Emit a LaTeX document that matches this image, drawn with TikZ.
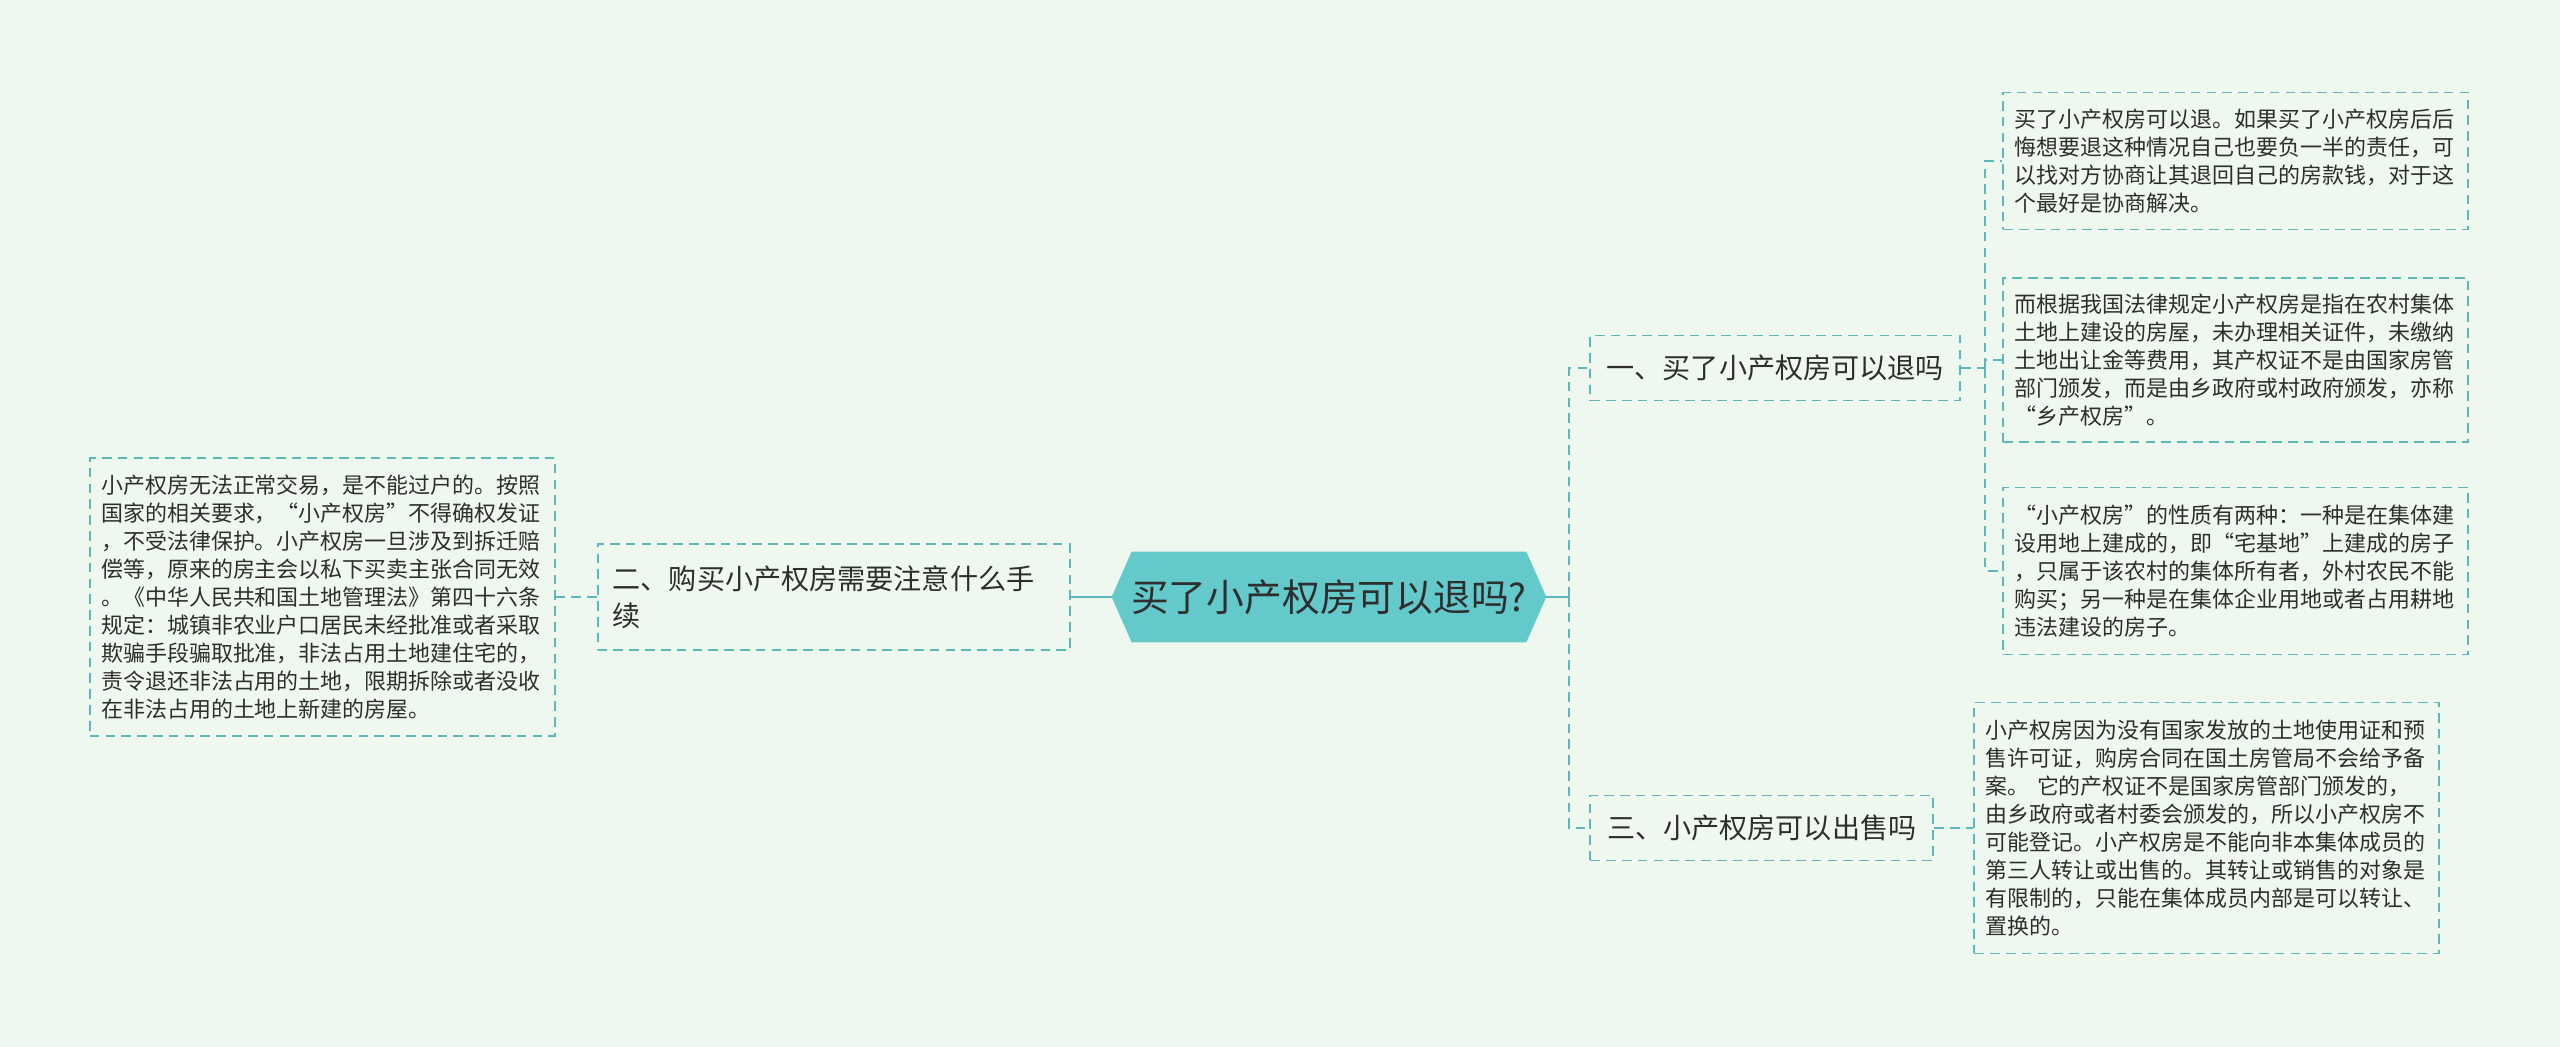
\documentclass[tikz,border=0pt]{standalone}
\usepackage{fontspec}
\setmainfont{Noto Sans CJK SC}
\usepackage{xcolor}
\usetikzlibrary{positioning,calc,backgrounds}

\definecolor{bgmint}{HTML}{EFF8EF}
\definecolor{tealfill}{HTML}{64C9CB}
\definecolor{tealline}{HTML}{5DB8BD}
\definecolor{inktext}{HTML}{2E2E2E}

\begin{document}
\begin{tikzpicture}[
    font=\fontsize{12.5pt}{15.9pt}\selectfont,
    text=inktext,
    box/.style={draw=tealline, line width=1.1pt, dash pattern=on 5.5pt off 3.5pt},
    leaf/.style={box, align=left, text width=8.84cm, inner xsep=0.23cm, inner ysep=0.2cm},
    branch/.style={box, font=\fontsize{16pt}{21pt}\selectfont, minimum height=1.3cm, inner xsep=0.3cm},
    root/.style={font=\fontsize{21.5pt}{26pt}\selectfont, minimum width=8.68cm, minimum height=1.8cm},
    link/.style={draw=tealline, line width=1.6pt},
    dlink/.style={link, line width=1.1pt, dash pattern=on 5.5pt off 3.5pt},
  ]
  \useasboundingbox (-26.58,-9.0) rectangle (24.62,11.94);

  % Root
  \node[root] (root) at (0,0) {买了小产权房可以退吗?};

  % Left branch
  \node[branch, left=0.82cm of root, align=left, text width=8.84cm, minimum height=2.12cm] (buy) {二、购买小产权房需要注意什么手\\续};
  \node[leaf, left=0.82cm of buy, minimum height=5.56cm] (buynote) {小产权房无法正常交易，是不能过户的。按照\\国家的相关要求，“小产权房”不得确权发证\\，不受法律保护。小产权房一旦涉及到拆迁赔\\偿等，原来的房主会以私下买卖主张合同无效\\。《中华人民共和国土地管理法》第四十六条\\规定：城镇非农业户口居民未经批准或者采取\\欺骗手段骗取批准，非法占用土地建住宅的，\\责令退还非法占用的土地，限期拆除或者没收\\在非法占用的土地上新建的房屋。};

  % Right branches
  \node[branch, right=0.86cm of root, yshift=4.58cm, minimum width=7.4cm] (refund) {一、买了小产权房可以退吗};
  \node[branch, right=0.86cm of root, yshift=-4.62cm, minimum width=6.86cm] (sell) {三、小产权房可以出售吗};

  % Leaves
  \node[leaf, right=0.82cm of refund, yshift=4.14cm, minimum height=2.74cm] (refund1) {买了小产权房可以退。如果买了小产权房后后\\悔想要退这种情况自己也要负一半的责任，可\\以找对方协商让其退回自己的房款钱，对于这\\个最好是协商解决。};
  \node[leaf, right=0.82cm of refund, yshift=0.16cm, minimum height=3.28cm] (refund2) {而根据我国法律规定小产权房是指在农村集体\\土地上建设的房屋，未办理相关证件，未缴纳\\土地出让金等费用，其产权证不是由国家房管\\部门颁发，而是由乡政府或村政府颁发，亦称\\“乡产权房”。};
  \node[leaf, right=0.82cm of refund, yshift=-4.06cm, minimum height=3.34cm] (refund3) {“小产权房”的性质有两种：一种是在集体建\\设用地上建成的，即“宅基地”上建成的房子\\，只属于该农村的集体所有者，外村农民不能\\购买；另一种是在集体企业用地或者占用耕地\\违法建设的房子。};
  \node[leaf, right=0.78cm of sell, minimum height=5.02cm] (sell1) {小产权房因为没有国家发放的土地使用证和预\\售许可证，购房合同在国土房管局不会给予备\\案。~它的产权证不是国家房管部门颁发的，\\由乡政府或者村委会颁发的，所以小产权房不\\可能登记。小产权房是不能向非本集体成员的\\第三人转让或出售的。其转让或销售的对象是\\有限制的，只能在集体成员内部是可以转让、\\置换的。};

  % Background and hexagon
  \begin{scope}[on background layer]
    \fill[bgmint] (-26.58,-9.0) rectangle (24.62,11.94);
    \fill[tealfill] (root.west) -- ([xshift=0.4cm]root.north west) -- ([xshift=-0.4cm]root.north east)
      -- (root.east) -- ([xshift=-0.4cm]root.south east) -- ([xshift=0.4cm]root.south west) -- cycle;
  \end{scope}

  % Edges
  \draw[link] (root.west) -- (buy.east);
  \draw[dlink] (buy.west) -- (buynote.east);
  \draw[link] (root.east) -- ++(0.46,0) coordinate (hub);
  \draw[dlink] (hub) |- (refund.west);
  \draw[dlink] (hub) |- (sell.west);
  \draw[dlink] (refund.east) -- ++(0.48,0) coordinate (fork);
  \foreach \n in {refund1,refund2,refund3}
    \draw[dlink] (fork) |- (\n.west);
  \draw[dlink] (sell.east) -- (sell1.west);
\end{tikzpicture}
\end{document}
